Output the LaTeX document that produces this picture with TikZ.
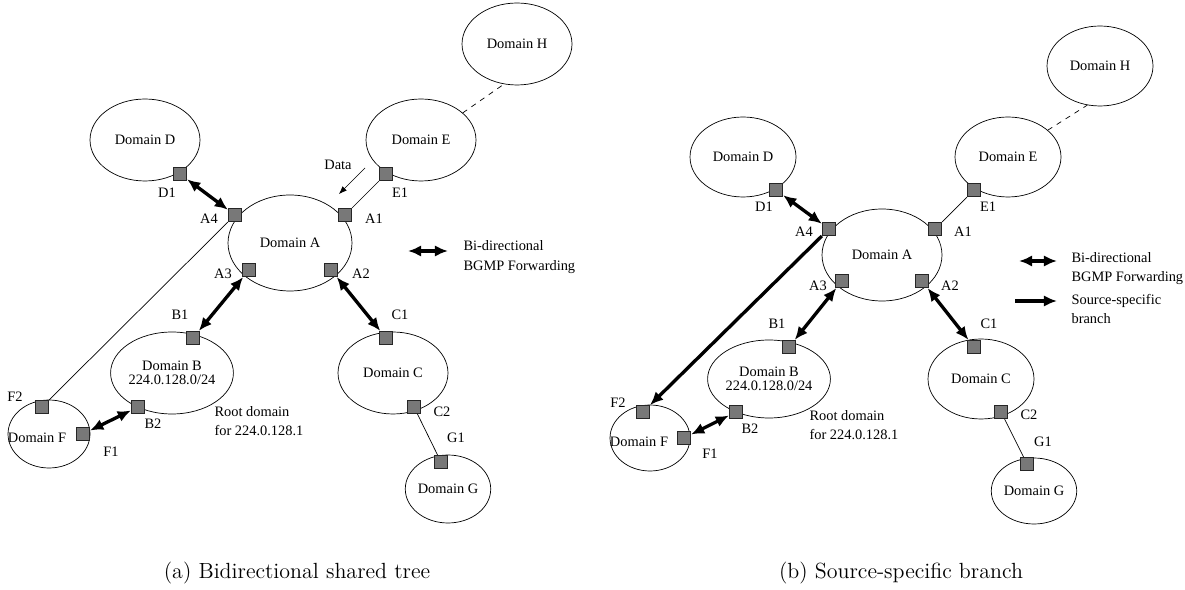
\documentclass[tikz,border=0pt]{standalone}
\usepackage{fontspec}
\usepackage{tikz}
\usetikzlibrary{positioning,shapes.geometric,arrows.meta}
\newfontfamily\tms{Liberation Serif}
\definecolor{portgray}{RGB}{120,120,120}

\begin{document}
\begin{tikzpicture}[x=0.02cm, y=-0.02cm, semithick,
                domnode/.style ={ellipse, draw, thin, inner sep=0pt, align=center,
                font=\tms\fontsize{8.2}{7.6}\selectfont, minimum width=2.2cm, minimum height=1.64cm},
                port/.style ={rectangle, draw=black!85, fill=portgray, thin, minimum size=0.27cm, inner sep=0pt},
                lbl/.style ={font=\tms\fontsize{8.2}{10}\selectfont, inner sep=0pt},
                note/.style ={font=\tms\fontsize{8.2}{10.4}\selectfont, align=left, anchor=west, inner sep=0pt},
                bidir/.style ={{Latex[length=7.5pt,width=6.5pt]}-{Latex[length=7.5pt,width=6.5pt]}, line width=1.9pt},
                branch/.style ={-{Latex[length=7.5pt,width=6.5pt]}, line width=1.9pt},
                link/.style ={thin},
                capt/.style ={font=\fontsize{12.5}{15}\selectfont}]
            \useasboundingbox (0,0) rectangle (1185,590);

            %% (a) arbol compartido bidireccional
            \node[domnode] (LH) at (517,44) {Domain H};
            \node[domnode] (LD) at (145,140) {Domain D};
            \node[domnode] (LE) at (421,140) {Domain E};
            \node[domnode, minimum width=2.48cm, minimum height=1.92cm] (LA) at (290,243) {Domain A};
            \node[domnode] (LB) at (172,373) {Domain B\\224.0.128.0/24};
            \node[domnode] (LC) at (393,373) {Domain C};
            \node[domnode, minimum width=1.64cm, minimum height=1.36cm] (LF) at (49,434) {};
            \node[lbl] (LFt) at (37,438) {Domain F};
            \node[domnode, minimum width=1.64cm, minimum height=1.36cm] (LG) at (448,489) {Domain G};

            \node[port] (Ld1) at (180,174) {};
            \node[port] (Le1) at (386,174) {};
            \node[port] (La4) at (235,215) {};
            \node[port] (La1) at (345,215) {};
            \node[port] (La3) at (249,270) {};
            \node[port] (La2) at (331,270) {};
            \node[port] (Lb1) at (193,338) {};
            \node[port] (Lc1) at (386,338) {};
            \node[port] (Lf2) at (42,407) {};
            \node[port] (Lb2) at (138,407) {};
            \node[port] (Lf1) at (83,434) {};
            \node[port] (Lc2) at (414,407) {};
            \node[port] (Lg1) at (441,462) {};

            \node[lbl] at (167,193) {D1};
            \node[lbl] at (400,193) {E1};
            \node[lbl] at (209,219) {A4};
            \node[lbl] at (374,219) {A1};
            \node[lbl] at (223,274) {A3};
            \node[lbl] at (361,274) {A2};
            \node[lbl] at (180,315) {B1};
            \node[lbl] at (400,315) {C1};
            \node[lbl] at (15,397) {F2};
            \node[lbl] at (153,424) {B2};
            \node[lbl] at (111,452) {F1};
            \node[lbl] at (442,412) {C2};
            \node[lbl] at (456,438) {G1};

            \path (LE.33) edge[link, dashed] (LH.252);
            \path (Le1) edge[link] (La1);
            \path (La4) edge[link] (Lf2);
            \path (Lc2) edge[link] (Lg1);
            \path (Ld1) edge[bidir] (La4);
            \path (La3) edge[bidir] (Lb1);
            \path (La2) edge[bidir] (Lc1);
            \path (Lb2) edge[bidir] (Lf1);

            \node[lbl] (Ldata) at (338,165) {Data};
            \coordinate (Lds) at (365,168);
            \coordinate (Lde) at (339,194);
            \path (Lds) edge[link, -{Latex[length=4.5pt,width=3.5pt]}] (Lde);

            \coordinate (Lk1) at (408,251);
            \coordinate (Lk2) at (448,251);
            \path (Lk1) edge[bidir] (Lk2);
            \node[note, font=\tms\fontsize{8.2}{11.3}\selectfont] (Lkey) at (463,257) {Bi-directional\\BGMP Forwarding};
            \node[note] (Lroot) at (214,421) {Root domain\\for 224.0.128.1};
            \node[capt] (Lcap) at (297,573) {(a) Bidirectional shared tree};

            %% (b) rama especifica de fuente
            \begin{scope}[domnode/.append style={minimum width=2.12cm, minimum height=1.6cm}]
            \node[domnode] (RH) at (1100,66) {Domain H};
            \node[domnode] (RD) at (743,157) {Domain D};
            \node[domnode] (RE) at (1008,157) {Domain E};
            \node[domnode, minimum width=2.4cm, minimum height=1.84cm] (RA) at (882,255) {Domain A};
            \node[domnode, minimum height=1.56cm] (RB) at (769,379) {Domain B\\224.0.128.0/24};
            \node[domnode] (RC) at (981,379) {Domain C};
            \node[domnode, minimum width=1.6cm, minimum height=1.32cm] (RF) at (650,438) {};
            \node[lbl] (RFt) at (639,442) {Domain F};
            \node[domnode, minimum width=1.6cm, minimum height=1.32cm] (RG) at (1034,491) {Domain G};
            \end{scope}

            \node[port] (Rd1) at (776,190) {};
            \node[port] (Re1) at (974,190) {};
            \node[port] (Ra4) at (829,229) {};
            \node[port] (Ra1) at (935,229) {};
            \node[port] (Ra3) at (842,281) {};
            \node[port] (Ra2) at (922,281) {};
            \node[port] (Rb1) at (789,347) {};
            \node[port] (Rc1) at (974,347) {};
            \node[port] (Rf2) at (643,412) {};
            \node[port] (Rb2) at (736,412) {};
            \node[port] (Rf1) at (684,438) {};
            \node[port] (Rc2) at (1001,412) {};
            \node[port] (Rg1) at (1027,464) {};

            \node[lbl] at (764,207) {D1};
            \node[lbl] at (988,207) {E1};
            \node[lbl] at (804,232) {A4};
            \node[lbl] at (963,232) {A1};
            \node[lbl] at (818,286) {A3};
            \node[lbl] at (950,286) {A2};
            \node[lbl] at (777,324) {B1};
            \node[lbl] at (989,324) {C1};
            \node[lbl] at (618,403) {F2};
            \node[lbl] at (750,429) {B2};
            \node[lbl] at (710,454) {F1};
            \node[lbl] at (1029,415) {C2};
            \node[lbl] at (1043,442) {G1};

            \path (RE.34) edge[link, dashed] (RH.252);
            \path (Re1) edge[link] (Ra1);
            \path (Ra4) edge[branch] (Rf2);
            \path (Rc2) edge[link] (Rg1);
            \path (Rd1) edge[bidir] (Ra4);
            \path (Ra3) edge[bidir] (Rb1);
            \path (Ra2) edge[bidir] (Rc1);
            \path (Rb2) edge[bidir] (Rf1);

            \coordinate (Rk1) at (1019,261);
            \coordinate (Rk2) at (1057,261);
            \path (Rk1) edge[bidir] (Rk2);
            \node[note] (Rkey) at (1071,268.5) {Bi-directional\\BGMP Forwarding};
            \coordinate (Rs1) at (1015,301);
            \coordinate (Rs2) at (1057,301);
            \path (Rs1) edge[branch, line width=2.3pt] (Rs2);
            \node[note] (Rsrc) at (1071,309) {Source-specific\\branch};
            \node[note] (Rroot) at (809,425) {Root domain\\for 224.0.128.1};
            \node[capt] (Rcap) at (901,573) {(b) Source-specific branch};
    \end{tikzpicture}
\end{document}
